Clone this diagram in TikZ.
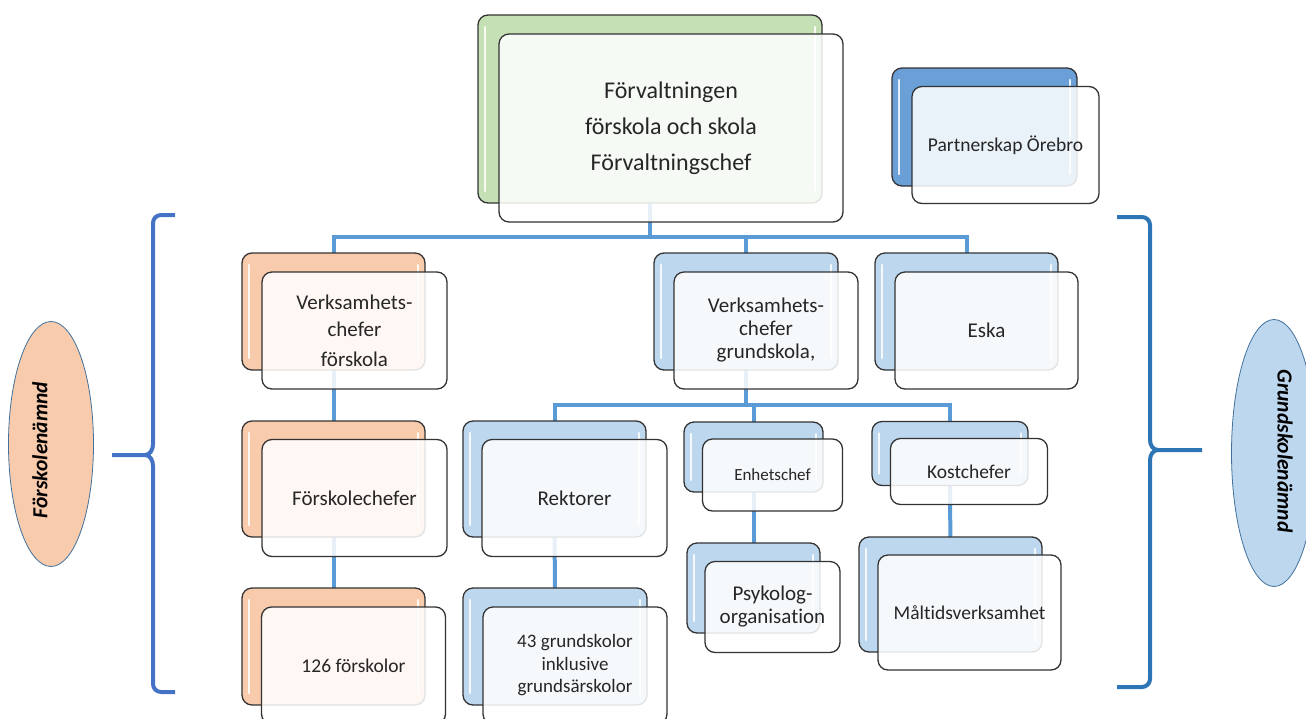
\documentclass[tikz,border=0pt]{standalone}
\usepackage{fontspec}
\setmainfont[Ligatures=NoCommon]{Carlito}
\usetikzlibrary{positioning, shapes.geometric, backgrounds}
\definecolor{linkblue}{HTML}{5B9BD5}
\definecolor{braceleft}{HTML}{4472C4}
\definecolor{braceright}{HTML}{2E75B6}
\definecolor{greenback}{HTML}{C5E0B4}
\definecolor{orangeback}{HTML}{F8CBAD}
\definecolor{blueback}{HTML}{BDD7EE}
\definecolor{darkblueback}{HTML}{6A9FD8}
\definecolor{boardline}{HTML}{41719C}
\tikzset{
	back/.style={
		rectangle,
		draw=black!80,
		line width=1.3pt,
		rounded corners=10pt,
		fill=#1,
		inner sep=0pt,
		path picture={
			\draw [white, line width=2.5pt, line cap=round, opacity=0.85]
				([shift={(7,12)}]path picture bounding box.north west) --
				([shift={(7,-12)}]path picture bounding box.south west);
			\draw [white, line width=2.5pt, line cap=round, opacity=0.85]
				([shift={(-7,12)}]path picture bounding box.north east) --
				([shift={(-7,-12)}]path picture bounding box.south east);
		},
	},
	front/.style={
		rectangle,
		draw=black!80,
		line width=1.3pt,
		rounded corners=10pt,
		fill=white,
		fill opacity=0.86,
		text opacity=1,
		text=black!85,
		inner sep=0pt,
		align=center,
	},
	link/.style={
		draw=linkblue,
		line width=4pt,
	},
	brace/.style={
		line width=4pt,
		line join=round,
	},
	board/.style={
		ellipse,
		draw=boardline,
		line width=0.8pt,
		fill=#1,
		inner sep=0pt,
	},
	boardtext/.style={
		font=\fontsize{21.5}{24}\selectfont\bfseries\itshape,
		text=black,
	},
}

\begin{document}
\begin{tikzpicture}[x=1pt, y=-1pt]
		\useasboundingbox (0,0) rectangle (1306,718);

		% Place boxes, top level
		\node [back=greenback, minimum width=344pt, minimum height=188pt] (topb) at (650,109) {};
		\node [front, minimum width=344pt, minimum height=188pt, font=\fontsize{24}{36}\selectfont]
			(topf) at ([shift={(21,19)}]topb.center) {Förvaltningen\\förskola och skola\\Förvaltningschef};

		\node [back=darkblueback, minimum width=185pt, minimum height=118pt] (partb) at (984.5,127) {};
		\node [front, minimum width=187pt, minimum height=117pt, font=\fontsize{19.5}{23}\selectfont]
			(partf) at ([shift={(21,18)}]partb.center) {Partnerskap Örebro};

		% first row
		\node [back=orangeback, minimum width=183pt, minimum height=117pt] (vkfb) at (333.5,311.5) {};
		\node [front, minimum width=185pt, minimum height=117pt, font=\fontsize{21}{27}\selectfont]
			(vkff) at ([shift={(21,19)}]vkfb.center) {Verksamhets-\\chefer\\[3pt]förskola};

		\node [back=blueback, minimum width=184pt, minimum height=117pt] (vkgb) at (746,311.5) {};
		\node [front, minimum width=184pt, minimum height=117pt, font=\fontsize{21}{23}\selectfont]
			(vkgf) at ([shift={(20,19)}]vkgb.center) {Verksamhets-\\chefer\\grundskola,};

		\node [back=blueback, minimum width=183pt, minimum height=117pt] (eskab) at (966.5,311.5) {};
		\node [front, minimum width=183pt, minimum height=117pt, font=\fontsize{21}{23}\selectfont]
			(eskaf) at ([shift={(20,19)}]eskab.center) {Eska};

		% second row
		\node [back=orangeback, minimum width=183pt, minimum height=116pt] (fscb) at (333.5,479) {};
		\node [front, minimum width=185pt, minimum height=117pt, font=\fontsize{21}{23}\selectfont]
			(fscf) at ([shift={(21,19)}]fscb.center) {Förskolechefer};

		\node [back=blueback, minimum width=183pt, minimum height=116pt] (rektb) at (554.5,479) {};
		\node [front, minimum width=185pt, minimum height=117pt, font=\fontsize{21}{23}\selectfont]
			(rektf) at ([shift={(20,19)}]rektb.center) {Rektorer};

		\node [back=blueback, minimum width=139pt, minimum height=70pt] (enhb) at (753.5,457) {};
		\node [front, minimum width=140pt, minimum height=72pt, font=\fontsize{17}{20}\selectfont]
			(enhf) at ([shift={(19,18)}]enhb.center) {Enhetschef};

		\node [back=blueback, minimum width=156pt, minimum height=64pt] (kostb) at (950,453.5) {};
		\node [front, minimum width=157pt, minimum height=66pt, font=\fontsize{19.5}{23}\selectfont]
			(kostf) at ([shift={(19,18)}]kostb.center) {Kostchefer};

		% third row
		\node [back=blueback, minimum width=133pt, minimum height=90pt] (psykb) at (753.5,588) {};
		\node [front, minimum width=135pt, minimum height=91pt, font=\fontsize{21}{23}\selectfont]
			(psykf) at ([shift={(19,19)}]psykb.center) {Psykolog-\\organisation};

		\node [back=blueback, minimum width=183pt, minimum height=115pt] (maltb) at (950.5,594.5) {};
		\node [front, minimum width=183pt, minimum height=115pt, font=\fontsize{19.5}{23}\selectfont]
			(maltf) at ([shift={(19,18)}]maltb.center) {Måltidsverksamhet};

		\node [back=orangeback, minimum width=183pt, minimum height=117pt] (f126b) at (333.5,646.5) {};
		\node [front, minimum width=184pt, minimum height=117pt, font=\fontsize{19.5}{23}\selectfont]
			(f126f) at ([shift={(20,19)}]f126b.center) {126 förskolor};

		\node [back=blueback, minimum width=184pt, minimum height=117pt] (g43b) at (555,646.5) {};
		\node [front, minimum width=184pt, minimum height=117pt, font=\fontsize{19}{22.5}\selectfont]
			(g43f) at ([shift={(20,19)}]g43b.center) {43 grundskolor\\inklusive\\grundsärskolor};

		% boards
		\node [board=orangeback, minimum width=85pt, minimum height=245pt] (fnb) at (51,444) {};
		\node [boardtext, rotate=90] (fnt) at (40,450) {Förskolenämnd};
		\node [board=blueback, minimum width=85pt, minimum height=267pt] (gnb) at (1274,453) {};
		\node [boardtext, rotate=-90] (gnt) at (1285,451) {Grundskolenämnd};

		% connectors
		\coordinate (bus1) at (650,237);
		\coordinate (bus2) at (746,405);
		\begin{scope}[on background layer]
			\draw [link] (topb.center) -- (topb.center |- bus1) -| (vkfb.center);
			\draw [link] (topb.center) -- (topb.center |- bus1) -| (vkgb.center);
			\draw [link] (topb.center) -- (topb.center |- bus1) -| (eskab.center);
			\draw [link] (vkgb.center) -- (vkgb.center |- bus2) -| (rektb.center);
			\draw [link] (vkgb.center) -- (vkgb.center |- bus2) -| (enhb.center);
			\draw [link] (vkgb.center) -- (vkgb.center |- bus2) -| (kostb.center);
			\draw [link] (vkfb.center) -- (fscb.center);
			\draw [link] (fscb.center) -- (f126b.center);
			\draw [link] (rektb.center) -- (g43b.center);
			\draw [link] (enhb.center) -- (psykb.center);
			\draw [link] (kostb.center) -- (maltb.center);
		\end{scope}

		% braces
		\draw [brace, braceleft] (175,215) -- (161,215) to[out=180, in=90] (153,223) -- (153,444)
			to[out=-90, in=0] (145,455) -- (112,455);
		\draw [brace, braceleft] (145,455) to[out=0, in=90] (153,466) -- (153,684)
			to[out=-90, in=180] (161,692) -- (175,692);
		\draw [brace, braceright] (1117,217) -- (1142,217) to[out=0, in=90] (1150,225) -- (1150,440)
			to[out=-90, in=180] (1158,450) -- (1202,450);
		\draw [brace, braceright] (1158,450) to[out=180, in=90] (1150,460) -- (1150,679)
			to[out=-90, in=0] (1142,687) -- (1117,687);

	\end{tikzpicture}
\end{document}
